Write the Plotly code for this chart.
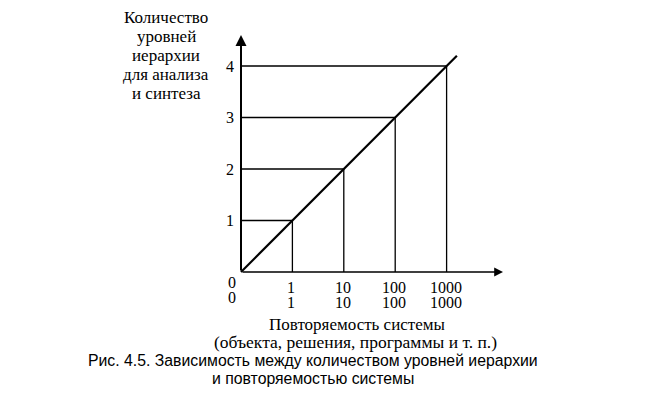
import plotly.graph_objects as go

# ---- data ----
repeatability_labels = ["0", "1", "10", "100", "1000"]   # x tick labels (log steps)
hierarchy_levels = [0, 1, 2, 3, 4]                       # y values
y_tick_labels = ["1", "2", "3", "4"]
line_extension = 0.2                                     # diagonal runs a bit past the last point

y_title_lines = ["Количество", "уровней", "иерархии", "для анализа", "и синтеза"]
x_title_lines = ["Повторяемость системы", "(объекта, решения, программы и т. п.)"]
caption_lines = ["Рис. 4.5. Зависимость между количеством уровней иерархии",
                 "и повторяемостью системы"]

# positions along x are the index of each repeatability step
x_pos = list(range(len(repeatability_labels)))

W, H = 664, 393
PAGE = 8                    # default page margin of the html body
ox, oy = 241 - PAGE, 272 - PAGE   # origin in figure pixels
ux, uy = 51.4, 51.5               # pixels per unit
xr = [-ox / ux, (W - ox) / ux]
yr = [-(H - oy) / uy, oy / uy]


def dxp(px):   # page pixel -> data x
    return (px - PAGE - ox) / ux


def dyp(py):   # page pixel -> data y
    return (oy - (py - PAGE)) / uy


serif = "Liberation Serif"
sans = "Liberation Sans"

fig = go.Figure()

# guide lines (horizontal + vertical to each point)
gx, gy = [], []
for xp, lv in zip(x_pos[1:], hierarchy_levels[1:]):
    gx += [0, xp, xp, None]
    gy += [lv, lv, 0, None]
fig.add_trace(go.Scatter(x=gx, y=gy, mode="lines",
                         line=dict(color="black", width=1.3),
                         hoverinfo="skip", showlegend=False))

# diagonal line
dx = x_pos + [x_pos[-1] + line_extension]
dy = hierarchy_levels + [hierarchy_levels[-1] + line_extension]
fig.add_trace(go.Scatter(x=dx, y=dy, mode="lines",
                         line=dict(color="black", width=2.2),
                         hoverinfo="skip", showlegend=False))

ann = []
# axes with arrows
ann.append(dict(x=0, y=dyp(35), ax=0, ay=0, xref="x", yref="y", axref="x", ayref="y",
                showarrow=True, arrowhead=2, arrowsize=1.1, arrowwidth=2, arrowcolor="black", text=""))
ann.append(dict(x=dxp(503), y=0, ax=0, ay=0, xref="x", yref="y", axref="x", ayref="y",
                showarrow=True, arrowhead=2, arrowsize=1.1, arrowwidth=1.6, arrowcolor="black", text=""))


def label(x, y, text, font, xref="x", yref="y"):
    return dict(x=x, y=y, xref=xref, yref=yref, text=text, showarrow=False,
                xanchor="center", yanchor="middle", font=font)


tick_font = dict(family=serif, size=16, color="black")
# y tick labels
for lv, t in zip(hierarchy_levels[1:], y_tick_labels):
    ann.append(label(dxp(230), lv, t, tick_font))

# x tick labels (two rows)
for xp, t in zip(x_pos, repeatability_labels):
    if xp == 0:
        xx, rows = dxp(231.5), (dyp(282), dyp(297))
    else:
        xx, rows = xp - 0.02, (dyp(287), dyp(302))
    for row_y in rows:
        ann.append(label(xx, row_y, t, tick_font))

title_font = dict(family=serif, size=17, color="black")
# y-axis title, one line at a time
for i, line in enumerate(y_title_lines):
    ann.append(label(dxp(166), dyp(17 + 19.2 * i), line, title_font))

# x-axis title
for line, cx, cy, fs in zip(x_title_lines, (357, 355), (324, 342), (17, 17.5)):
    ann.append(label(dxp(cx), dyp(cy), line, dict(family=serif, size=fs, color="black")))

# caption
for line, cy in zip(caption_lines, (360, 378)):
    ann.append(label((313 - PAGE) / W, 1 - (cy - PAGE) / H, line,
                     dict(family=sans, size=15.8, color="black"), xref="paper", yref="paper"))

fig.update_layout(
    width=W, height=H, autosize=False,
    margin=dict(l=0, r=0, t=0, b=0),
    paper_bgcolor="white", plot_bgcolor="white",
    xaxis=dict(range=xr, visible=False, fixedrange=True),
    yaxis=dict(range=yr, visible=False, fixedrange=True),
    annotations=ann,
    showlegend=False,
)

fig.write_html("out.html")
